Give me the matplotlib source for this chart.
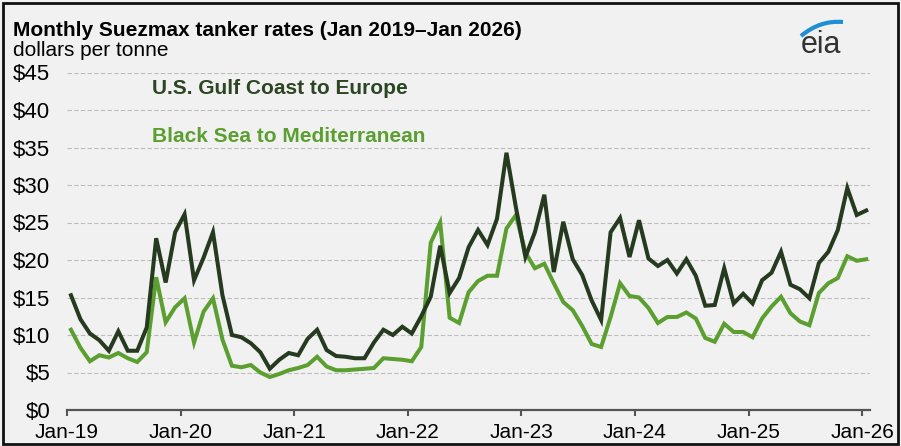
import numpy as np
import matplotlib
matplotlib.use("Agg")
import matplotlib.pyplot as plt
from matplotlib.patches import Rectangle, PathPatch
from matplotlib.path import Path

plt.rcParams['font.family'] = ['Liberation Sans', 'DejaVu Sans']

# monthly rates, Jan 2019 .. Jan 2026 (dollars per tonne)
gulf_to_europe = [15.3, 12.1, 10.2, 9.3, 7.9, 10.5, 7.9, 7.9, 11.0, 22.9,
                  17.0, 23.7, 26.1, 17.3, 20.3, 23.7, 15.3, 10.0, 9.7, 8.9,
                  7.7, 5.5, 6.7, 7.6, 7.3, 9.5, 10.7, 8.0, 7.2, 7.1,
                  6.9, 6.9, 9.0, 10.7, 10.0, 11.1, 10.2, 12.5, 15.1, 21.9,
                  15.6, 17.6, 21.7, 24.0, 22.0, 25.5, 34.3, 27.0, 20.4, 23.7,
                  28.7, 18.4, 25.1, 20.1, 18.0, 14.6, 12.0, 23.7, 25.6, 20.4,
                  25.3, 20.2, 19.2, 20.0, 18.2, 20.1, 17.9, 13.9, 14.0, 18.9,
                  14.2, 15.5, 14.2, 17.3, 18.3, 21.1, 16.7, 16.1, 14.9, 19.6,
                  21.1, 24.0, 29.6, 26.0, 26.6]
black_sea_to_med = [10.7, 8.3, 6.5, 7.3, 7.0, 7.6, 6.9, 6.4, 7.7, 17.7,
                    11.7, 13.7, 14.9, 9.0, 13.1, 14.9, 9.4, 5.9, 5.7, 6.0,
                    5.0, 4.4, 4.8, 5.3, 5.6, 6.0, 7.1, 5.8, 5.3, 5.3,
                    5.4, 5.5, 5.6, 6.9, 6.8, 6.7, 6.5, 8.4, 22.3, 25.0,
                    12.3, 11.6, 15.7, 17.2, 17.9, 17.9, 24.2, 26.0, 21.0, 18.9,
                    19.5, 16.9, 14.4, 13.3, 11.2, 8.8, 8.4, 12.4, 16.9, 15.2,
                    15.0, 13.6, 11.6, 12.4, 12.4, 13.0, 12.2, 9.6, 9.1, 11.5,
                    10.4, 10.4, 9.7, 12.2, 13.8, 15.1, 12.9, 11.8, 11.3, 15.6,
                    16.9, 17.6, 20.5, 19.9, 20.1]
year_labels = ['Jan-19', 'Jan-20', 'Jan-21', 'Jan-22', 'Jan-23',
               'Jan-24', 'Jan-25', 'Jan-26']
y_values = [0, 5, 10, 15, 20, 25, 30, 35, 40, 45]
y_labels = ['$' + str(v) for v in y_values]

dark_green = '#263a20'
light_green = '#5b9f30'
bg = '#f1f1f1'
W, H = 901, 446

fig = plt.figure(figsize=(W / 100, H / 100), dpi=100, facecolor=bg)
ax = fig.add_axes([67 / W, 36 / H, 803 / W, 337.5 / H])
ax.set_facecolor(bg)

months = np.arange(len(gulf_to_europe))
ax.plot(months, gulf_to_europe, color=dark_green, lw=2.9, solid_joinstyle='miter', zorder=3)
ax.plot(months, black_sea_to_med, color=light_green, lw=2.9, solid_joinstyle='miter', zorder=2)

ax.set_xlim(-0.42, 84.4)
ax.set_ylim(0, 45)

# ticks sit a little before the first point of each January
ax.set_xticks([12 * k - 0.42 for k in range(len(year_labels))])
ax.set_xticklabels(year_labels)
ax.set_yticks(y_values)
ax.set_yticklabels(y_labels)
ax.tick_params(axis='x', direction='out', length=4, width=1.5, color='#555555',
               labelsize=15, pad=5)
ax.tick_params(axis='y', length=0, labelsize=16, pad=12)

for s in ['top', 'right', 'left']:
    ax.spines[s].set_visible(False)
ax.spines['bottom'].set_color('#555555')
ax.spines['bottom'].set_linewidth(1.6)
ax.spines['bottom'].set_zorder(4)
ax.yaxis.grid(True, color='#bdbdbd', linestyle=(0, (4, 2)), lw=0.8)
ax.set_axisbelow(True)

fig.text(13 / W, 1 - 36 / H, 'Monthly Suezmax tanker rates (Jan 2019\u2013Jan 2026)',
         fontsize=15, weight='bold', va='baseline')
fig.text(13 / W, 1 - 56 / H, 'dollars per tonne', fontsize=15, va='baseline')

# inline series labels
fig.text(152 / W, 1 - 94 / H, 'U.S. Gulf Coast to Europe', fontsize=15,
         weight='bold', color='#2c4623', va='baseline')
fig.text(152 / W, 1 - 142.5 / H, 'Black Sea to Mediterranean', fontsize=15,
         weight='bold', color=light_green, va='baseline')

# eia logo
fig.text(821 / W, 1 - 53 / H, 'eia', fontsize=22, color='#333333',
         ha='center', va='baseline')
swoosh = Path([(801 / W, 1 - 36 / H), (820 / W, 1 - 20 / H), (843 / W, 1 - 22 / H)],
              [Path.MOVETO, Path.CURVE3, Path.CURVE3])
fig.patches.append(PathPatch(swoosh, transform=fig.transFigure, fill=False,
                             edgecolor='#1e8fd5', lw=3))

fig.patches.append(Rectangle((3 / W, 2 / H), 895 / W, 441 / H, transform=fig.transFigure,
                             fill=False, edgecolor='#111111', lw=2))

fig.savefig('out.png', dpi=100, facecolor=bg)
